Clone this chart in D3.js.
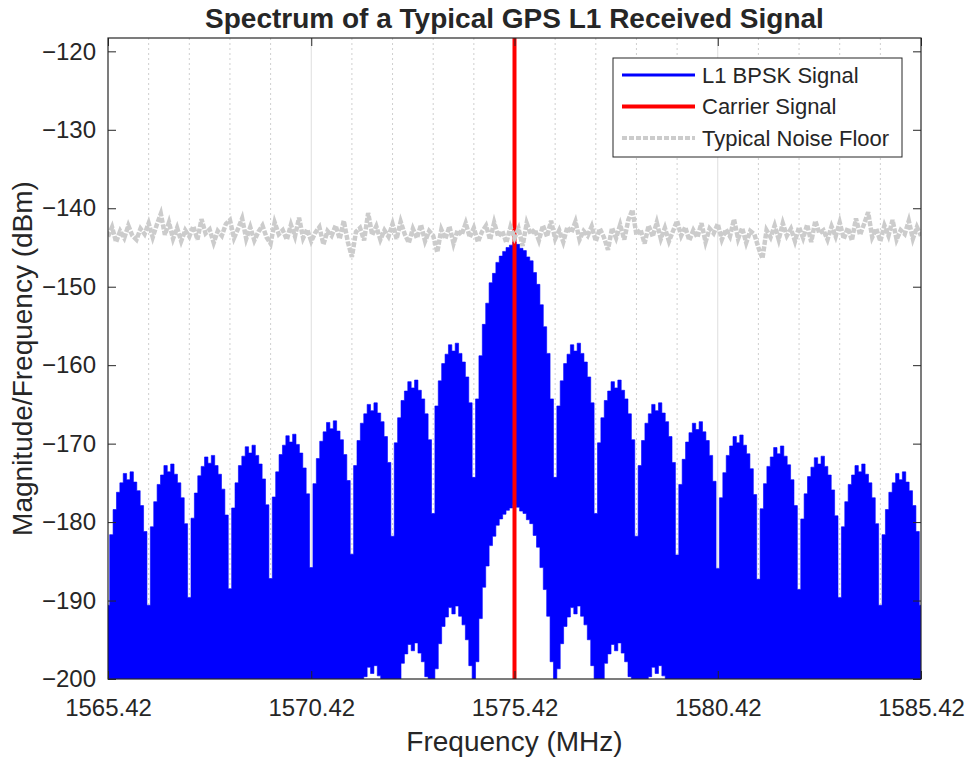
<!DOCTYPE html>
<html>
<head>
<meta charset="utf-8">
<script src="https://cdn.jsdelivr.net/npm/d3@7"></script>
<style>
body { margin: 0; background: #fff; }
text { font-family: "Liberation Sans", Arial, sans-serif; fill: #262626; }
</style>
</head>
<body>
<svg id="chart" width="969" height="763"></svg>
<script>
// lobe boundaries (spectral nulls), MHz
var lobeEdges = [1565.42, 1566.42, 1567.42, 1568.42, 1569.42, 1570.42, 1571.42, 1572.42, 1573.42, 1574.42,
                 1576.42, 1577.42, 1578.42, 1579.42, 1580.42, 1581.42, 1582.42, 1583.42, 1584.42, 1585.42];
// top of each lobe, dBm
var lobePeaks = [-173.6, -172.6, -171.5, -170.2, -168.8, -167.1, -164.8, -161.9, -157.2,
                 -144.3,
                 -157.2, -161.9, -164.8, -167.2, -168.9, -170.3, -171.6, -172.6, -173.6];
// dB below the lobe top, every 1/12 MHz from null to null
var sideLobeShape = [17, 8.0, 4.8, 2.6, 1.4, 0.2, 1.0, 0, 1.3, 2.4, 4.3, 7.6, 17];
var mainLobeShape = [30, 20, 14.5, 10.5, 7.8, 5.2, 4.0, 2.6, 1.8, 1.2, 0.7, 0.4, 0,
                     0.3, 0.8, 1.1, 1.9, 2.4, 3.9, 5.4, 8.0, 10.8, 14.2, 20, 30];
// how far the dense code lines fall below the envelope
var lineDepth = 33.5;

var carrierFreq = [1575.42];

// noise floor, one value every 0.1 MHz
var noiseStart = 1565.42, noiseStep = 0.1;
var noiseFloor = [
  -143.6, -142.4, -144.3, -142.9, -143.8, -142.2, -143.5, -144.0, -142.6, -143.3,
  -141.9, -143.7, -142.1, -140.7, -143.4, -141.8, -143.9, -142.5, -144.2, -142.8,
  -143.6, -142.3, -144.0, -141.4, -143.2, -142.7, -144.4, -142.9, -143.5, -142.0,
  -141.5, -143.8, -142.6, -141.3, -143.9, -142.4, -144.1, -143.0, -142.2, -143.7,
  -144.5, -141.8, -143.3, -142.8, -144.0, -142.1, -143.6, -141.2, -143.8, -142.7,
  -144.2, -143.1, -142.4, -144.6, -142.9, -143.5, -142.2, -143.9, -141.6, -144.3,
  -146.2, -143.0, -142.5, -144.1, -140.6, -143.4, -142.3, -144.0, -142.8, -143.6,
  -142.0, -143.9, -141.7, -143.3, -144.4, -142.6, -143.8, -142.1, -144.2, -142.9,
  -143.5, -145.6, -142.7, -143.9, -142.3, -144.5, -142.8, -143.4, -141.9, -143.7,
  -142.5, -144.3, -143.0, -142.2, -144.0, -141.8, -143.6, -142.9, -144.4, -142.4,
  -143.8, -142.6, -144.8, -141.9, -143.3, -142.7, -144.1, -142.2, -143.6, -141.6,
  -143.9, -142.8, -144.3, -142.4, -143.1, -141.7, -144.0, -142.9, -143.5, -142.3,
  -144.2, -142.6, -143.7, -145.3, -142.5, -143.8, -142.1, -144.0, -141.5, -140.2,
  -143.4, -142.7, -144.5, -142.2, -143.6, -141.8, -143.9, -142.5, -144.2, -142.9,
  -141.6, -143.5, -142.4, -144.1, -142.8, -143.7, -141.9, -144.3, -142.6, -143.2,
  -142.0, -144.0, -142.7, -143.6, -141.4, -143.9, -142.5, -144.4, -142.9, -143.3,
  -145.0, -146.4, -142.8, -143.7, -142.2, -144.0, -141.9, -143.5, -142.6, -144.2,
  -142.4, -143.8, -142.1, -144.3, -141.6, -143.2, -142.8, -144.0, -142.3, -143.6,
  -141.8, -143.9, -142.5, -144.1, -141.3, -143.4, -142.0, -140.5, -143.7, -142.6,
  -144.2, -142.2, -143.5, -141.5, -144.0, -142.8, -143.3, -141.6, -143.9, -142.4,
  -143.5
];

var xTicks = [1565.42, 1570.42, 1575.42, 1580.42, 1585.42];
var xMinorGrid = d3.range(21).map(function(i) { return 1565.42 + i; });
var yTicks = [-200, -190, -180, -170, -160, -150, -140, -130, -120];
var legendLabels = ["L1 BPSK Signal", "Carrier Signal", "Typical Noise Floor"];

var svg = d3.select("#chart");
var pLeft = 108, pRight = 921, pTop = 38, pBottom = 679;

var x = d3.scaleLinear().domain([1565.42, 1585.42]).range([pLeft, pRight]);
var y = d3.scaleLinear().domain([-200, -118.3]).range([pBottom, pTop]);

svg.append("defs").append("clipPath").attr("id", "plotclip")
    .append("rect").attr("x", pLeft).attr("y", pTop).attr("width", pRight - pLeft).attr("height", pBottom - pTop);

// grid
var grid = svg.append("g");
grid.selectAll(".minor")
    .data(xMinorGrid.filter(function(f) { return xTicks.every(function(t) { return Math.abs(t - f) > 1e-6; }); }))
    .enter().append("line")
    .attr("x1", function(d) { return x(d); }).attr("x2", function(d) { return x(d); })
    .attr("y1", pTop).attr("y2", pBottom)
    .attr("stroke", "#cfcfcf").attr("stroke-width", 1).attr("stroke-dasharray", "2,3");
grid.selectAll(".major")
    .data(xTicks.slice(1, -1))
    .enter().append("line")
    .attr("x1", function(d) { return x(d); }).attr("x2", function(d) { return x(d); })
    .attr("y1", pTop).attr("y2", pBottom)
    .attr("stroke", "#dedede").attr("stroke-width", 1);

// signal envelope built from the lobes
function buildEnvelope() {
    var pts = [];
    for (var j = 0; j < lobePeaks.length; j++) {
        var a = lobeEdges[j], b = lobeEdges[j + 1];
        var shape = (b - a > 1.5) ? mainLobeShape : sideLobeShape;
        var n = shape.length - 1;
        for (var k = 0; k <= n; k++) {
            var p = { f: a + (b - a) * k / n, top: lobePeaks[j] - shape[k] };
            if (k === 0 && pts.length) {
                var last = pts[pts.length - 1];
                last.top = Math.min(last.top, p.top);
                continue;
            }
            pts.push(p);
        }
    }
    return pts;
}
var envelope = buildEnvelope();

var plot = svg.append("g").attr("clip-path", "url(#plotclip)");

var area = d3.area()
    .x(function(d) { return x(d.f); })
    .y1(function(d) { return y(d.top); })
    .y0(function(d) { return y(d.top - lineDepth); })
    .curve(d3.curveStep);

plot.append("path")
    .datum(envelope)
    .attr("fill", "#0000ff")
    .attr("stroke", "#0000ff")
    .attr("stroke-width", 0.6)
    .attr("d", area);

// carrier
plot.selectAll(".carrier")
    .data(carrierFreq)
    .enter().append("line")
    .attr("x1", function(d) { return x(d); }).attr("x2", function(d) { return x(d); })
    .attr("y1", y(-200)).attr("y2", y(-118.3))
    .attr("stroke", "#ff0000").attr("stroke-width", 4);

// noise floor
var noiseLine = d3.line()
    .x(function(d, i) { return x(noiseStart + i * noiseStep); })
    .y(function(d) { return y(d); });

plot.append("path")
    .datum(noiseFloor)
    .attr("fill", "none")
    .attr("stroke", "#cccccc")
    .attr("stroke-width", 4.5)
    .attr("stroke-dasharray", "5,1.5")
    .attr("d", noiseLine);

// axes
var xAxis = d3.axisBottom(x).tickValues(xTicks).tickFormat(d3.format(".2f")).tickSize(-8).tickPadding(20);
var yAxis = d3.axisLeft(y).tickValues(yTicks).tickSize(-8).tickPadding(12);

svg.append("g").attr("transform", "translate(0," + pBottom + ")").call(xAxis);
svg.append("g").attr("transform", "translate(" + pLeft + ",0)").call(yAxis);
svg.append("g").attr("transform", "translate(0," + pTop + ")")
    .call(d3.axisTop(x).tickValues(xTicks).tickSize(-8).tickFormat(""));
svg.append("g").attr("transform", "translate(" + pRight + ",0)")
    .call(d3.axisRight(y).tickValues(yTicks).tickSize(-8).tickFormat(""));

svg.selectAll(".domain").remove();
svg.selectAll(".tick line").attr("stroke", "#262626");
svg.selectAll(".tick text").style("font-size", "24px").attr("fill", "#262626");

svg.append("rect")
    .attr("x", pLeft).attr("y", pTop).attr("width", pRight - pLeft).attr("height", pBottom - pTop)
    .attr("fill", "none").attr("stroke", "#262626").attr("stroke-width", 1.2);

// labels
svg.append("text")
    .attr("x", (pLeft + pRight) / 2).attr("y", 28)
    .attr("text-anchor", "middle")
    .style("font-size", "28px").style("font-weight", "bold")
    .attr("fill", "#000")
    .text("Spectrum of a Typical GPS L1 Received Signal");

svg.append("text")
    .attr("x", (pLeft + pRight) / 2).attr("y", 751)
    .attr("text-anchor", "middle")
    .style("font-size", "28px")
    .text("Frequency (MHz)");

svg.append("text")
    .attr("transform", "translate(32," + (pTop + pBottom) / 2 + ") rotate(-90)")
    .attr("text-anchor", "middle")
    .style("font-size", "28px")
    .text("Magnitude/Frequency (dBm)");

// legend
var legendColors = ["#0000ff", "#ff0000", "#cccccc"];
var legendWidths = [3, 4, 4];
var legend = svg.append("g").attr("transform", "translate(613,58)");
legend.append("rect")
    .attr("width", 289).attr("height", 99)
    .attr("fill", "#fff").attr("stroke", "#262626").attr("stroke-width", 1);

var items = legend.selectAll(".legend-item")
    .data(legendLabels)
    .enter().append("g")
    .attr("transform", function(d, i) { return "translate(0," + (17 + i * 31.5) + ")"; });

items.append("line")
    .attr("x1", 9).attr("x2", 82).attr("y1", 0).attr("y2", 0)
    .attr("stroke", function(d, i) { return legendColors[i]; })
    .attr("stroke-width", function(d, i) { return legendWidths[i]; })
    .attr("stroke-dasharray", function(d, i) { return i === 2 ? "5,2" : null; });

items.append("text")
    .attr("x", 89).attr("y", 0).attr("dy", "0.35em")
    .style("font-size", "22px")
    .text(function(d) { return d; });
</script>
</body>
</html>
